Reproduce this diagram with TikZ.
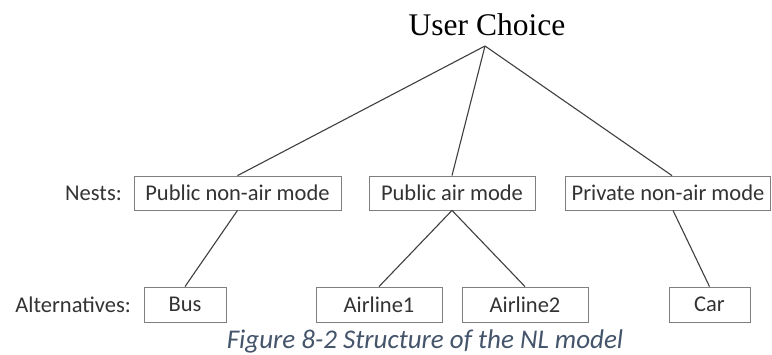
\documentclass[tikz,border=0pt]{standalone}
\usepackage{fontspec}
\setmainfont{Carlito}
\newfontfamily\serifface{Liberation Serif}
\definecolor{boxedge}{HTML}{7F7F7F}
\definecolor{linkgray}{HTML}{3F3F3F}
\definecolor{labeltext}{HTML}{333333}
\definecolor{captionblue}{HTML}{44546A}
\begin{document}
\begin{tikzpicture}[x=1pt,y=1pt,
  choicebox/.style={draw=boxedge, line width=0.8pt, inner sep=0pt,
    minimum height=34pt, text=labeltext,
    font=\fontsize{22.5}{26}\selectfont},
  rowlabel/.style={anchor=east, inner sep=0pt, text=labeltext,
    font=\fontsize{22.5}{26}\selectfont},
  link/.style={draw=linkgray, line width=1.1pt}]
\useasboundingbox (0,0) rectangle (772,-354);
\fill[white] (0,0) rectangle (772,-354);

% root of the tree
\node[anchor=base, inner sep=0pt, font=\serifface\fontsize{31.5}{36}\selectfont] (uc) at (487,-35) {User Choice};
\coordinate (apex) at (485,-46);

% nests
\node[choicebox, minimum width=207pt] (n1) at (237.5,-193) {Public non-air mode};
\node[choicebox, minimum width=166pt] (n2) at (452,-193) {Public air mode};
\node[choicebox, minimum width=205pt] (n3) at (668,-193) {Private non-air mode};

% alternatives
\node[choicebox, minimum width=82pt, minimum height=35pt] (bus) at (185,-304.5) {Bus};
\node[choicebox, minimum width=126pt, minimum height=35pt] (air1) at (379,-304.5) {Airline1};
\node[choicebox, minimum width=126pt, minimum height=35pt] (air2) at (525,-304.5) {Airline2};
\node[choicebox, minimum width=81pt, minimum height=35pt] (car) at (709.5,-304.5) {Car};

% row labels
\node[rowlabel] (lnests) at (122,-193) {Nests:};
\node[rowlabel] (lalts) at (131,-305) {Alternatives:};

% connectors
\draw[link] (apex) -- (n1.north);
\draw[link] (apex) -- (n2.north);
\draw[link] (apex) -- ([xshift=4pt]n3.north);
\draw[link] (n1.south) -- (bus.north);
\draw[link] (n2.south) -- (air1.north);
\draw[link] (n2.south) -- (air2.north);
\draw[link] ([xshift=5pt]n3.south) -- (car.north);

% caption
\node[anchor=base, inner sep=0pt, text=captionblue, font=\itshape\fontsize{27}{31}\selectfont] (cap) at (425,-348) {Figure 8-2 Structure of the NL model};
\end{tikzpicture}
\end{document}
